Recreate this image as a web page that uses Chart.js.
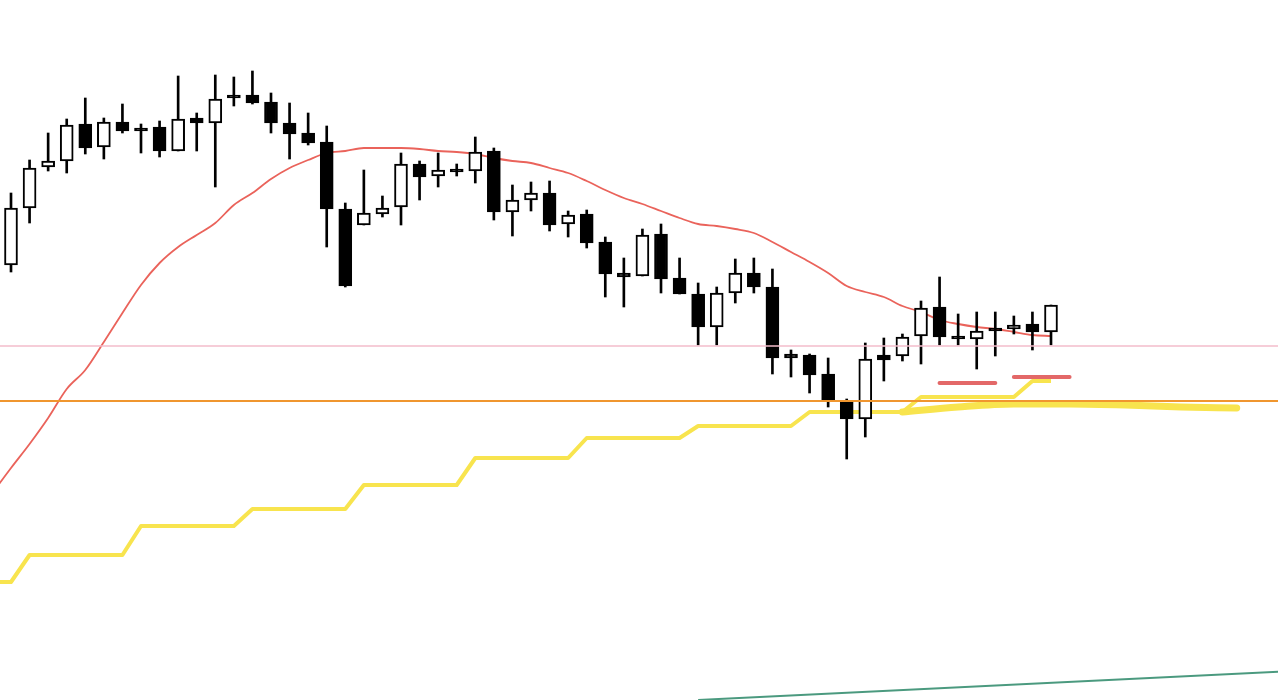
<!DOCTYPE html>
<html>
<head>
<meta charset="utf-8">
<script src="https://cdn.jsdelivr.net/npm/chart.js@4/dist/chart.umd.min.js"></script>
<style>
  html, body { margin: 0; padding: 0; background: #fff; }
  #wrap { width: 1278px; height: 700px; position: relative; }
</style>
</head>
<body>
<div id="wrap"><canvas id="chart"></canvas></div>
<script>
'use strict';
// candles (index = bar number)
const opens  = [435,492,533,539,576,553,578,572,573,549,582,577,605,605,598,577,567,558,491,475,486,493,536,524,531,529,549,488,500,507,476,486,458,427,424,466,422,406,373,407,427,413,346,345,326,298,281,345,344,364,393,364,361,372,371,376,368];
const highs  = [507,540,567,581,602,582,596,576,579,624,587,625,623,629,607,597,587,574,497,530,504,547,539,547,536,563,552,515,518,519,489,490,463,442,471,476,442,417,413,441,442,431,350,346,342,301,357,362,366,399,423,386,388,388,384,388,395];
const lows   = [428,477,529,527,546,541,567,547,543,549,549,513,594,596,567,541,555,453,413,475,483,475,500,513,524,517,480,464,489,469,463,452,403,393,424,407,406,355,355,397,407,326,323,307,293,241,263,319,339,336,355,355,331,344,366,350,355];
const closes = [492,532,539,575,552,578,569,569,549,581,577,601,602,597,577,566,557,491,414,487,492,536,523,530,528,548,488,500,507,475,485,457,426,423,465,421,406,373,407,427,413,342,342,325,299,281,341,340,363,392,363,361,369,369,375,368,395];

// moving average, starts one bar before the first candle
const maStart = -1;
const maValues = [207,232,256,282,311,330,358,387,415,437,453,465,477,495,507,521,532,540,547,549,552,552,552,551,549,548,546,542,539,537,532,527,519,510,502,496,489,482,476,474,471,467,458,448,438,427,414,408,403,394,388,380,376,373,371,368,365,364];

// stepped yellow line, one value per bar from bar -1
const stepStart = -1;
const stepValues = [118,118,145,145,145,145,145,145,174,174,174,174,174,174,191,191,191,191,191,191,215,215,215,215,215,215,242,242,242,242,242,242,262,262,262,262,262,262,274,274,274,274,274,274,288,288,288,288,288,288,303,303,303,303,303,303,319,319];

// thick yellow line
const slowBars = [48, 51, 54, 57, 60, 63, 66];
const slowValues = [288, 293, 296, 296, 295, 293, 292];

// horizontal levels
const pinkLevel = 354;
const orangeLevel = 299;
const segA = { from: 50, to: 53, level: 317 };
const segB = { from: 54, to: 57, level: 323 };

// green trend line
const trendX = [37, 69];
const trendY = [0, 29];

const xMin = -0.5923, xMax = 68.223;

function seq(start, values) {
    return values.map(function (v, i) { return { x: start + i, y: v }; });
}

const wicks = [], bodyUp = [], bodyDown = [];
for (let i = 0; i < opens.length; i++) {
    wicks.push({ x: i, y: [lows[i], highs[i]] });
    if (closes[i] >= opens[i]) {
        bodyUp.push({ x: i, y: [opens[i], closes[i]] });
    } else {
        bodyDown.push({ x: i, y: [closes[i], opens[i]] });
    }
}

function hline(level, from, to) {
    return [{ x: from, y: level }, { x: to, y: level }];
}

const lineBase = { type: 'line', pointRadius: 0, fill: false, tension: 0 };

new Chart(document.getElementById('chart'), {
    type: 'bar',
    data: {
        datasets: [
            Object.assign({}, lineBase, { data: seq(stepStart, stepValues), borderColor: '#f8e44e', borderWidth: 4, order: 6, borderJoinStyle: 'round' }),
            Object.assign({}, lineBase, { data: slowBars.map(function (b, i) { return { x: b, y: slowValues[i] }; }), borderColor: '#f8e44e', borderWidth: 7, order: 6, borderCapStyle: 'round', cubicInterpolationMode: 'monotone' }),
            Object.assign({}, lineBase, { data: seq(maStart, maValues), borderColor: '#ea635b', borderWidth: 1.8, order: 5, cubicInterpolationMode: 'monotone' }),
            Object.assign({}, lineBase, { data: [{ x: trendX[0], y: trendY[0] }, { x: trendX[1], y: trendY[1] }], borderColor: '#4b9a7f', borderWidth: 2, order: 5 }),
            { data: wicks, backgroundColor: '#000', borderWidth: 0, barThickness: 2, grouped: false, order: 3 },
            { data: bodyUp, backgroundColor: '#fff', borderColor: '#000', borderWidth: 2, borderSkipped: false, barThickness: 13, grouped: false, order: 2 },
            { data: bodyDown, backgroundColor: '#000', borderColor: '#000', borderWidth: 2, borderSkipped: false, barThickness: 13, grouped: false, order: 2 },
            Object.assign({}, lineBase, { data: hline(pinkLevel, -2, 70), borderColor: '#f3bccb', borderWidth: 1.5, order: 1 }),
            Object.assign({}, lineBase, { data: hline(orangeLevel, -2, 70), borderColor: '#f0962f', borderWidth: 2, order: 1 }),
            Object.assign({}, lineBase, { data: hline(segA.level, segA.from, segA.to), borderColor: '#e36868', borderWidth: 4, borderCapStyle: 'round', order: 1 }),
            Object.assign({}, lineBase, { data: hline(segB.level, segB.from, segB.to), borderColor: '#e36868', borderWidth: 4, borderCapStyle: 'round', order: 1 })
        ]
    },
    options: {
        responsive: true,
        maintainAspectRatio: false,
        animation: false,
        layout: { padding: 0 },
        plugins: { legend: { display: false }, tooltip: { enabled: false } },
        scales: {
            x: { type: 'linear', min: xMin, max: xMax, display: false, offset: false },
            y: { type: 'linear', min: 0, max: 700, display: false }
        }
    }
});
</script>
</body>
</html>
